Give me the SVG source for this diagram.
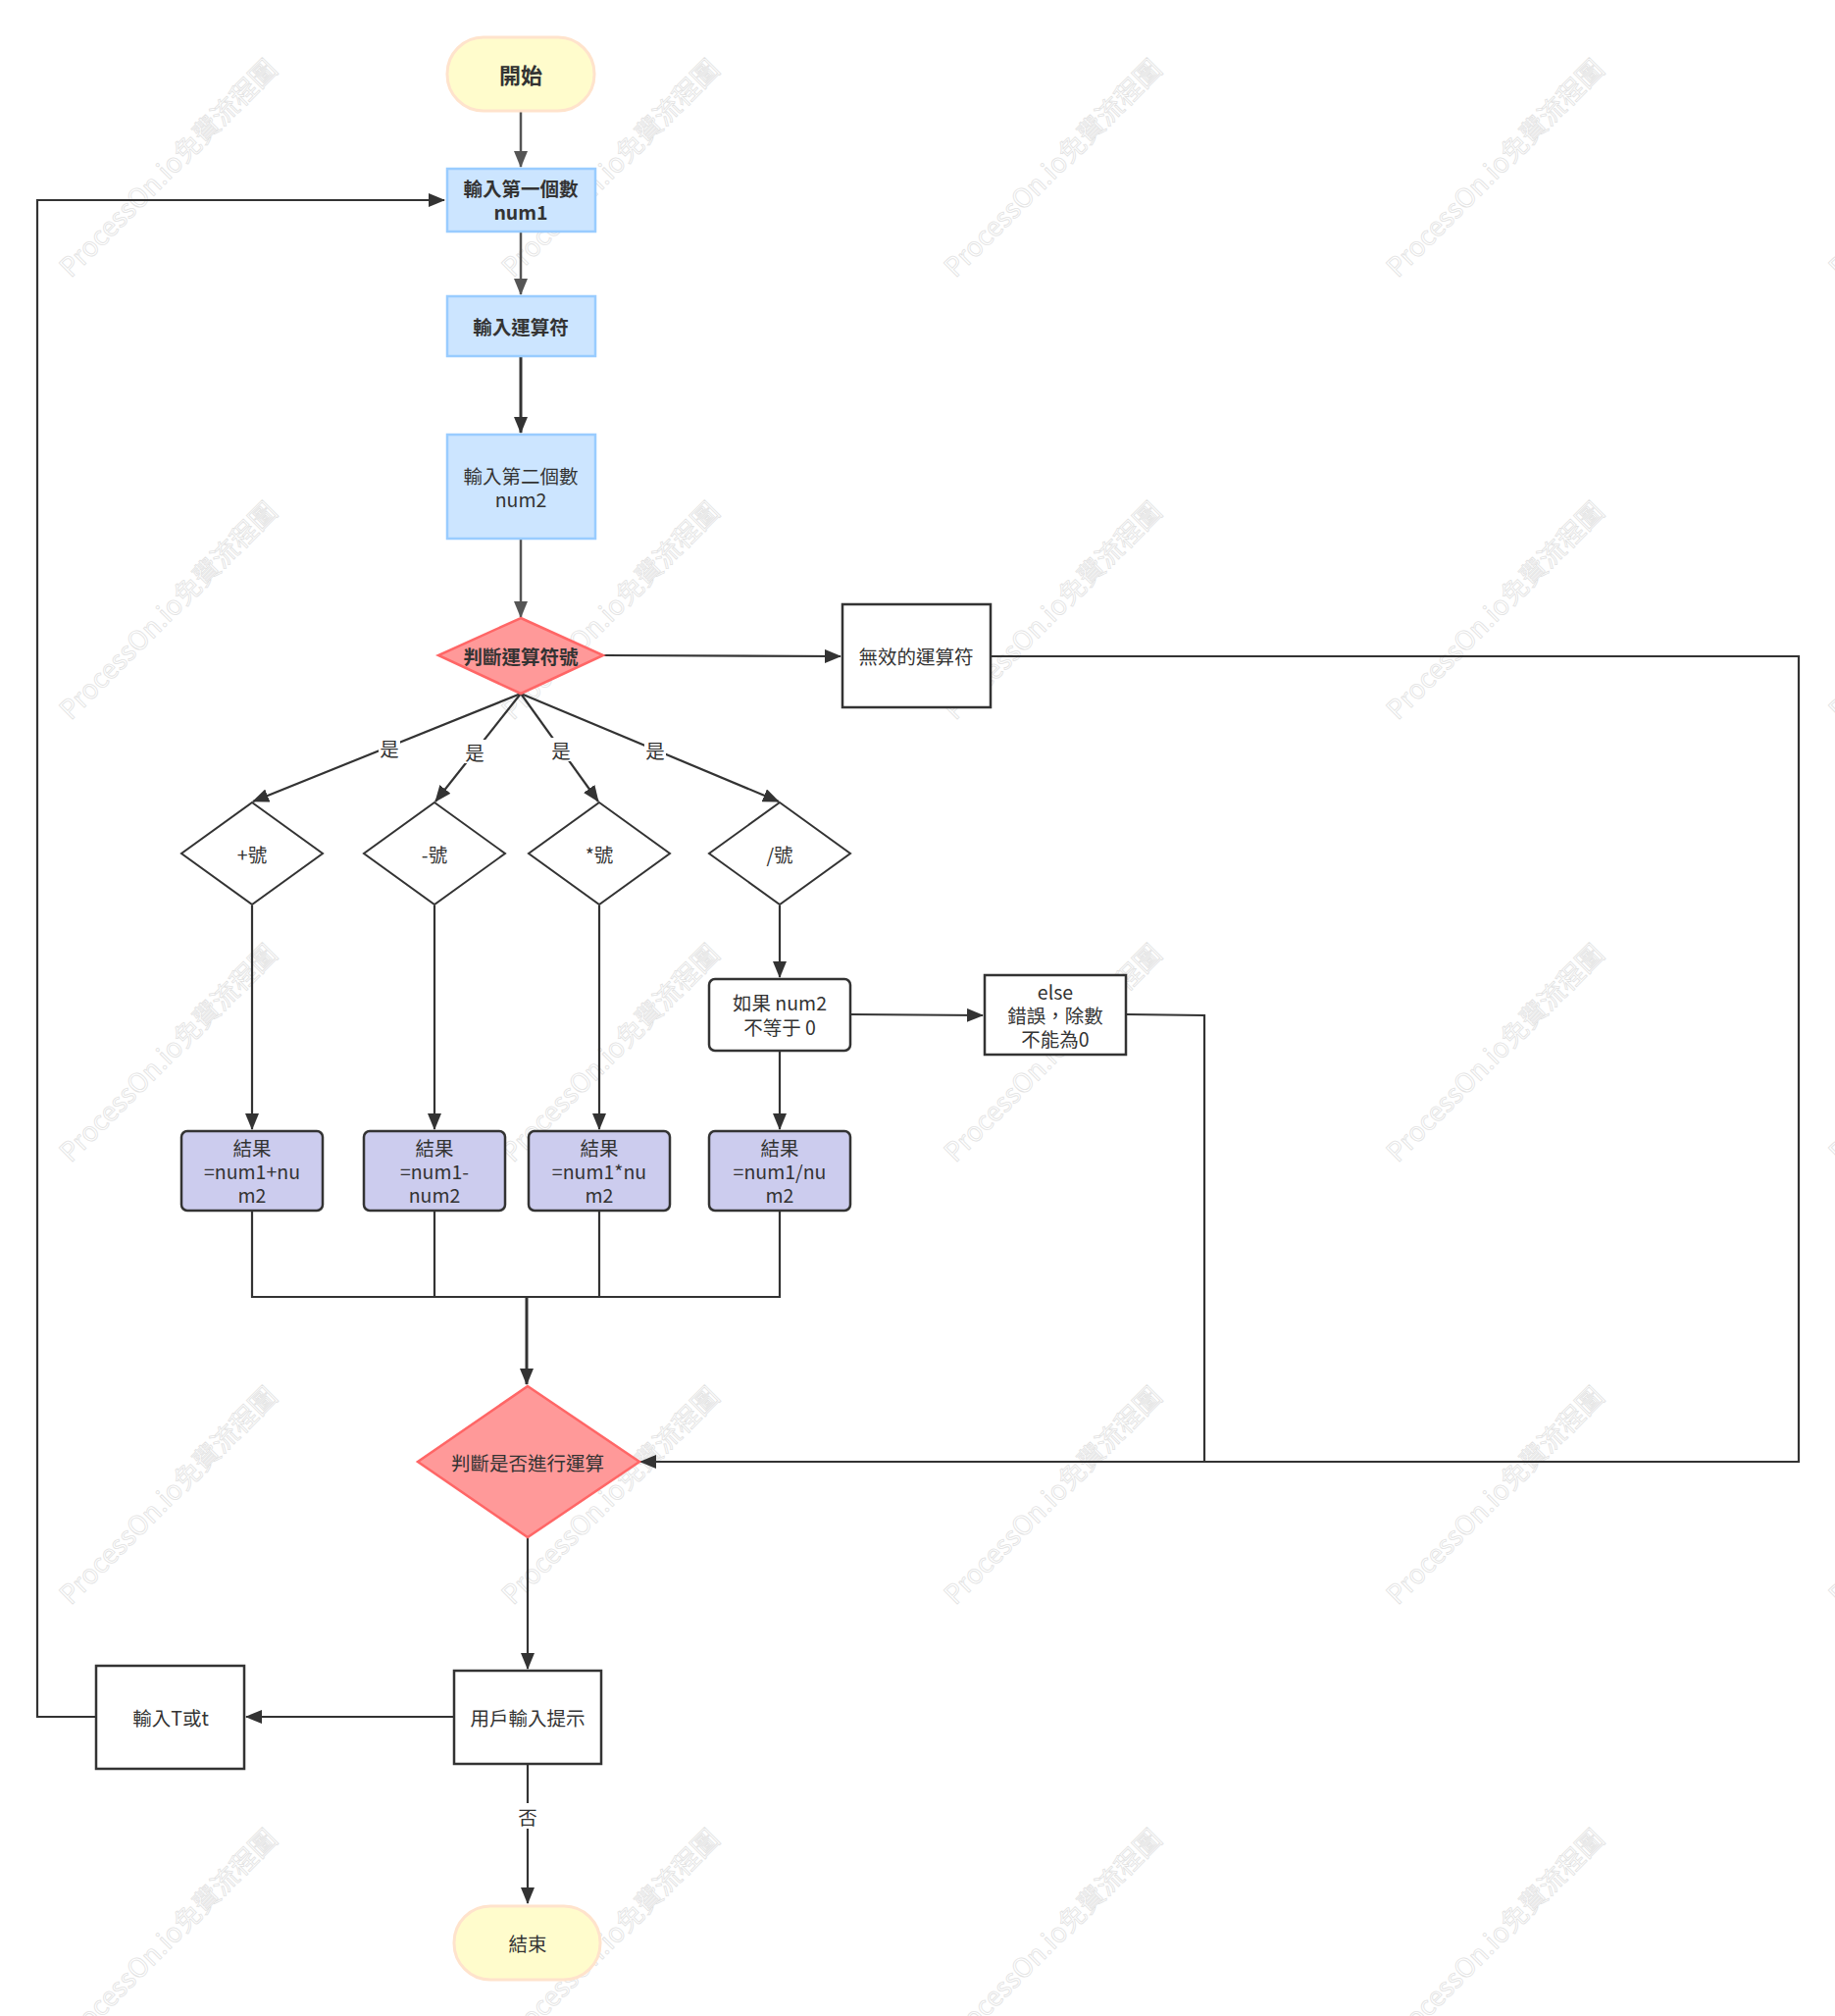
<svg xmlns="http://www.w3.org/2000/svg" width="1871" height="2055" viewBox="0 0 1871 2055">
<style>
text{font-family:"Noto Sans CJK TC","Noto Sans",sans-serif;fill:#333;font-size:19.5px;text-anchor:middle;dominant-baseline:central}
.b{font-weight:bold}
.wm{font-size:27px;fill:none;stroke:#e2e2e2;stroke-width:0.8;text-anchor:middle}
.c{fill:none;stroke:#333;stroke-width:2.2}
.g{fill:none;stroke:#555;stroke-width:2.5}
.box{fill:#fff;stroke:#333;stroke-width:2.5}
.blue{fill:#cce5ff;stroke:#99ccff;stroke-width:2.5}
.red{fill:#ff9999;stroke:#ff6666;stroke-width:2.5}
.term{fill:#fffccc;stroke:#ffe3cc;stroke-width:3}
.res{fill:#ccccee;stroke:#333;stroke-width:2.5}
.dia{fill:#fff;stroke:#333;stroke-width:2}
.lbl{fill:#fff}
</style>
<defs>
<marker id="ad" markerUnits="userSpaceOnUse" markerWidth="18" markerHeight="14" refX="16" refY="7" orient="auto"><path d="M0,0 L17,7 L0,14 z" fill="#333"/></marker>
<marker id="ag" markerUnits="userSpaceOnUse" markerWidth="18" markerHeight="14" refX="16" refY="7" orient="auto"><path d="M0,0 L17,7 L0,14 z" fill="#555"/></marker>
</defs>
<rect width="1871" height="2055" fill="#fff"/>
<g id="watermark">
<text class="wm" transform="translate(170,170) rotate(-45)">ProcessOn.io免費流程圖</text>
<text class="wm" transform="translate(621,170) rotate(-45)">ProcessOn.io免費流程圖</text>
<text class="wm" transform="translate(1072,170) rotate(-45)">ProcessOn.io免費流程圖</text>
<text class="wm" transform="translate(1523,170) rotate(-45)">ProcessOn.io免費流程圖</text>
<text class="wm" transform="translate(1974,170) rotate(-45)">ProcessOn.io免費流程圖</text>
<text class="wm" transform="translate(170,621) rotate(-45)">ProcessOn.io免費流程圖</text>
<text class="wm" transform="translate(621,621) rotate(-45)">ProcessOn.io免費流程圖</text>
<text class="wm" transform="translate(1072,621) rotate(-45)">ProcessOn.io免費流程圖</text>
<text class="wm" transform="translate(1523,621) rotate(-45)">ProcessOn.io免費流程圖</text>
<text class="wm" transform="translate(1974,621) rotate(-45)">ProcessOn.io免費流程圖</text>
<text class="wm" transform="translate(170,1072) rotate(-45)">ProcessOn.io免費流程圖</text>
<text class="wm" transform="translate(621,1072) rotate(-45)">ProcessOn.io免費流程圖</text>
<text class="wm" transform="translate(1072,1072) rotate(-45)">ProcessOn.io免費流程圖</text>
<text class="wm" transform="translate(1523,1072) rotate(-45)">ProcessOn.io免費流程圖</text>
<text class="wm" transform="translate(1974,1072) rotate(-45)">ProcessOn.io免費流程圖</text>
<text class="wm" transform="translate(170,1523) rotate(-45)">ProcessOn.io免費流程圖</text>
<text class="wm" transform="translate(621,1523) rotate(-45)">ProcessOn.io免費流程圖</text>
<text class="wm" transform="translate(1072,1523) rotate(-45)">ProcessOn.io免費流程圖</text>
<text class="wm" transform="translate(1523,1523) rotate(-45)">ProcessOn.io免費流程圖</text>
<text class="wm" transform="translate(1974,1523) rotate(-45)">ProcessOn.io免費流程圖</text>
<text class="wm" transform="translate(170,1974) rotate(-45)">ProcessOn.io免費流程圖</text>
<text class="wm" transform="translate(621,1974) rotate(-45)">ProcessOn.io免費流程圖</text>
<text class="wm" transform="translate(1072,1974) rotate(-45)">ProcessOn.io免費流程圖</text>
<text class="wm" transform="translate(1523,1974) rotate(-45)">ProcessOn.io免費流程圖</text>
</g>
<g id="connectors">
<path class="g" d="M531,114 V170" marker-end="url(#ag)"/>
<path class="g" d="M531,237 V300" marker-end="url(#ag)"/>
<path class="c" style="stroke-width:3" d="M531,363 V441" marker-end="url(#ad)"/>
<path class="g" d="M531,549 V629" marker-end="url(#ag)"/>
<path class="c" d="M615,668 L857,669" marker-end="url(#ad)"/>
<path class="c" d="M1010,669 H1834 V1490 H653" marker-end="url(#ad)"/>
<path class="c" d="M1148,1034 L1228,1035 V1490"/>
<path class="c" d="M531,707 L258,817" marker-end="url(#ad)"/>
<path class="c" d="M531,707 L444,817" marker-end="url(#ad)"/>
<path class="c" d="M531,707 L610,817" marker-end="url(#ad)"/>
<path class="c" d="M531,707 L794,817" marker-end="url(#ad)"/>
<rect class="lbl" x="386" y="750" width="22" height="24"/>
<text x="397" y="762">是</text>
<rect class="lbl" x="473" y="754" width="22" height="24"/>
<text x="484" y="766">是</text>
<rect class="lbl" x="561" y="752" width="22" height="24"/>
<text x="572" y="764">是</text>
<rect class="lbl" x="657" y="752" width="22" height="24"/>
<text x="668" y="764">是</text>
<path class="c" d="M257,923 V1151" marker-end="url(#ad)"/>
<path class="c" d="M443,923 V1151" marker-end="url(#ad)"/>
<path class="c" d="M611,923 V1151" marker-end="url(#ad)"/>
<path class="c" d="M795,923 V996" marker-end="url(#ad)"/>
<path class="c" d="M795,1071 V1151" marker-end="url(#ad)"/>
<path class="c" d="M866,1034 L1002,1035" marker-end="url(#ad)"/>
<path class="c" d="M257,1234 V1322 H795 V1234 M443,1234 V1322 M611,1234 V1322"/>
<path class="c" style="stroke-width:3" d="M537,1322 V1411" marker-end="url(#ad)"/>
<path class="c" d="M538,1567 V1701" marker-end="url(#ad)"/>
<path class="c" d="M462,1750 H251" marker-end="url(#ad)"/>
<path class="c" d="M98,1750 H38 V204 H453" marker-end="url(#ad)"/>
<path class="c" d="M538,1798 V1940" marker-end="url(#ad)"/>
<rect class="lbl" x="527" y="1838" width="22" height="26"/>
<text x="538" y="1851">否</text>
</g>
<g id="start"><rect class="term" x="456" y="38" width="150" height="75" rx="37"/><text class="b" x="531" y="75" style="font-size:22px">開始</text></g>
<g id="input1"><rect class="blue" x="456" y="172" width="151" height="64"/><text class="b" x="531" y="191">輸入第一個數</text><text class="b" x="531" y="215">num1</text></g>
<g id="inputOp"><rect class="blue" x="456" y="302" width="151" height="61"/><text class="b" x="531" y="332">輸入運算符</text></g>
<g id="input2"><rect class="blue" x="456" y="443" width="151" height="106"/><text x="531" y="484">輸入第二個數</text><text x="531" y="508">num2</text></g>
<g id="judgeOp"><path class="red" d="M531,630 L615,668 L531,707 L447,668 z"/><text class="b" x="531" y="668">判斷運算符號</text></g>
<g id="invalid"><rect class="box" x="859" y="616" width="151" height="105"/><text x="934" y="668">無效的運算符</text></g>
<g id="plus"><path class="dia" d="M257,818 L329,870 L257,922 L185,870 z"/><text x="257" y="870">+號</text></g>
<g id="minus"><path class="dia" d="M443,818 L515,870 L443,922 L371,870 z"/><text x="443" y="870">-號</text></g>
<g id="mul"><path class="dia" d="M611,818 L683,870 L611,922 L539,870 z"/><text x="611" y="870">*號</text></g>
<g id="div"><path class="dia" d="M795,818 L867,870 L795,922 L723,870 z"/><text x="795" y="870">/號</text></g>
<g id="ifnz"><rect class="box" x="723" y="998" width="144" height="73" rx="6"/><text x="795" y="1021">如果 num2</text><text x="795" y="1046">不等于 0</text></g>
<g id="else"><rect class="box" x="1004" y="994" width="144" height="81"/><text x="1076" y="1010">else</text><text x="1076" y="1034">錯誤，除數</text><text x="1076" y="1058">不能為0</text></g>
<g id="resPlus"><rect class="res" x="185" y="1153" width="144" height="81" rx="6"/><text x="257" y="1169">結果</text><text x="257" y="1193">=num1+nu</text><text x="257" y="1217">m2</text></g>
<g id="resMinus"><rect class="res" x="371" y="1153" width="144" height="81" rx="6"/><text x="443" y="1169">結果</text><text x="443" y="1193">=num1-</text><text x="443" y="1217">num2</text></g>
<g id="resMul"><rect class="res" x="539" y="1153" width="144" height="81" rx="6"/><text x="611" y="1169">結果</text><text x="611" y="1193">=num1*nu</text><text x="611" y="1217">m2</text></g>
<g id="resDiv"><rect class="res" x="723" y="1153" width="144" height="81" rx="6"/><text x="795" y="1169">結果</text><text x="795" y="1193">=num1/nu</text><text x="795" y="1217">m2</text></g>
<g id="judgeCont"><path class="red" d="M538,1413 L652,1490 L538,1567 L426,1490 z"/><text x="538" y="1490">判斷是否進行運算</text></g>
<g id="prompt"><rect class="box" x="463" y="1703" width="150" height="95"/><text x="538" y="1750">用戶輸入提示</text></g>
<g id="inputT"><rect class="box" x="98" y="1698" width="151" height="105"/><text x="174" y="1750">輸入T或t</text></g>
<g id="end"><rect class="term" x="463" y="1943" width="149" height="75" rx="37"/><text x="538" y="1980">結束</text></g>
</svg>
